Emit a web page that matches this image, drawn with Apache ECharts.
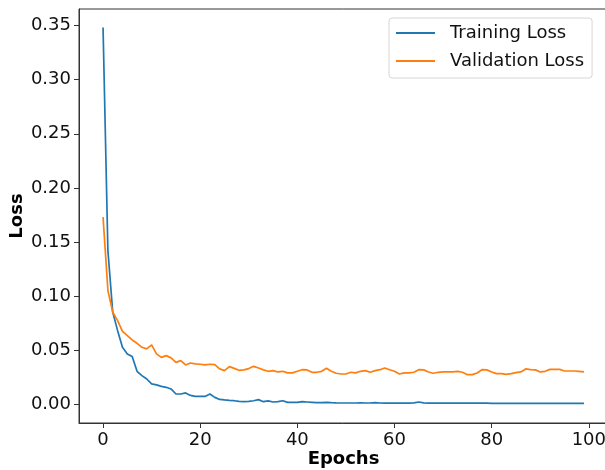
<!DOCTYPE html>
<html>
<head>
<meta charset="utf-8">
<script src="https://cdn.jsdelivr.net/npm/echarts@6/dist/echarts.min.js"></script>
<style>
  html, body { margin: 0; padding: 0; background: #fff; }
  #chart { width: 605px; height: 470px; }
</style>
</head>
<body>
<div id="chart"></div>
<script>
// epochs 0..99
const EPOCHS = Array.from({ length: 100 }, (_, i) => i);

const TRAIN_LOSS = [
  0.3483, 0.142, 0.085, 0.068, 0.0526, 0.0465, 0.044, 0.0304, 0.0264, 0.0233,
  0.0187, 0.0178, 0.0165, 0.0156, 0.0141, 0.0094, 0.0094, 0.0104, 0.0081, 0.0072,
  0.0072, 0.0072, 0.0094, 0.0063, 0.0044, 0.0039, 0.0035, 0.0032, 0.0026, 0.0023,
  0.0026, 0.0032, 0.0042, 0.0023, 0.0030, 0.0020, 0.0023, 0.0032, 0.0017, 0.0017,
  0.0017, 0.0023, 0.0020, 0.0017, 0.0014, 0.0014, 0.0017, 0.0014, 0.0012, 0.0011,
  0.0011, 0.0011, 0.0011, 0.0012, 0.0011, 0.0011, 0.0015, 0.0011, 0.0010, 0.0010,
  0.0011, 0.0010, 0.0010, 0.0010, 0.0012, 0.0020, 0.0012, 0.0010, 0.0010, 0.0010,
  0.0009, 0.0009, 0.0010, 0.0009, 0.0009, 0.0009, 0.0009, 0.0009, 0.0009, 0.0009,
  0.0008, 0.0008, 0.0008, 0.0008, 0.0008, 0.0008, 0.0008, 0.0008, 0.0008, 0.0008,
  0.0008, 0.0008, 0.0008, 0.0008, 0.0008, 0.0008, 0.0008, 0.0008, 0.0008, 0.0008
];

const VAL_LOSS = [
  0.1730, 0.1051, 0.0850, 0.0773, 0.0674, 0.0634, 0.0594, 0.0563, 0.0526, 0.0511,
  0.0548, 0.0465, 0.0433, 0.0449, 0.0428, 0.0387, 0.0403, 0.0363, 0.0381, 0.0372,
  0.0369, 0.0363, 0.0369, 0.0366, 0.0326, 0.0310, 0.0347, 0.0331, 0.0313, 0.0317,
  0.0329, 0.0350, 0.0335, 0.0317, 0.0304, 0.0310, 0.0298, 0.0304, 0.0289, 0.0289,
  0.0304, 0.0319, 0.0317, 0.0295, 0.0295, 0.0304, 0.0332, 0.0304, 0.0286, 0.0279,
  0.0279, 0.0295, 0.0289, 0.0304, 0.0310, 0.0295, 0.0310, 0.0319, 0.0335, 0.0319,
  0.0304, 0.0279, 0.0289, 0.0289, 0.0295, 0.0319, 0.0317, 0.0298, 0.0286, 0.0295,
  0.0298, 0.0298, 0.0298, 0.0304, 0.0295, 0.0273, 0.0273, 0.0289, 0.0319, 0.0317,
  0.0298, 0.0283, 0.0283, 0.0276, 0.0282, 0.0292, 0.0298, 0.0326, 0.0319, 0.0317,
  0.0298, 0.0304, 0.0322, 0.0322, 0.0322, 0.0307, 0.0307, 0.0307, 0.0304, 0.0298
];

const X_TICKS = [0, 20, 40, 60, 80, 100];
const Y_TICKS = [0, 0.05, 0.10, 0.15, 0.20, 0.25, 0.30, 0.35];

const FONT = 'DejaVu Sans';
const AXIS_COLOR = '#333';
const TEXT_COLOR = '#111';

const chart = echarts.init(document.getElementById('chart'), null, { renderer: 'canvas' });

chart.setOption({
  backgroundColor: '#fff',
  animation: false,
  grid: {
    left: 79, top: 9, right: -3, bottom: 47,
    outerBoundsMode: 'none',
    containLabel: false,
    show: true, borderColor: AXIS_COLOR, borderWidth: 1, backgroundColor: 'transparent'
  },
  legend: {
    orient: 'vertical',
    left: 389, top: 18,
    padding: [5, 8, 7, 7],
    icon: 'rect',
    itemWidth: 39, itemHeight: 2, itemGap: 8,
    borderColor: '#d6d6d6', borderWidth: 1, borderRadius: 3,
    backgroundColor: '#fff',
    textStyle: { fontFamily: FONT, fontSize: 18, color: TEXT_COLOR, lineHeight: 20, padding: [0, 0, 0, 10] },
    data: ['Training Loss', 'Validation Loss']
  },
  xAxis: {
    type: 'value',
    min: -4.95, max: 103.95,
    name: 'Epochs',
    nameLocation: 'middle',
    nameGap: 27,
    nameMoveOverlap: false,
    nameTextStyle: { fontFamily: FONT, fontSize: 18, fontWeight: 'bold', color: '#000' },
    axisLine: { show: true, onZero: false, lineStyle: { color: AXIS_COLOR } },
    axisTick: { show: true, length: 5, customValues: X_TICKS, lineStyle: { color: AXIS_COLOR } },
    axisLabel: { customValues: X_TICKS, margin: 8, fontFamily: FONT, fontSize: 18, color: TEXT_COLOR },
    splitLine: { show: false }
  },
  yAxis: {
    type: 'value',
    min: -0.0174, max: 0.3654,
    name: 'Loss',
    nameLocation: 'middle',
    nameGap: 53,
    nameMoveOverlap: false,
    nameTextStyle: { fontFamily: FONT, fontSize: 18, fontWeight: 'bold', color: '#000' },
    axisLine: { show: true, onZero: false, lineStyle: { color: AXIS_COLOR } },
    axisTick: { show: true, length: 5, customValues: Y_TICKS, lineStyle: { color: AXIS_COLOR } },
    axisLabel: {
      customValues: Y_TICKS, margin: 8, fontFamily: FONT, fontSize: 18, color: TEXT_COLOR,
      formatter: v => v.toFixed(2)
    },
    splitLine: { show: false }
  },
  series: [
    {
      name: 'Training Loss',
      type: 'line',
      symbol: 'none',
      data: EPOCHS.map((e, i) => [e, TRAIN_LOSS[i]]),
      lineStyle: { color: '#1f77b4', width: 1.7 },
      itemStyle: { color: '#1f77b4' }
    },
    {
      name: 'Validation Loss',
      type: 'line',
      symbol: 'none',
      data: EPOCHS.map((e, i) => [e, VAL_LOSS[i]]),
      lineStyle: { color: '#ff7f0e', width: 1.7 },
      itemStyle: { color: '#ff7f0e' }
    }
  ]
});
</script>
</body>
</html>
